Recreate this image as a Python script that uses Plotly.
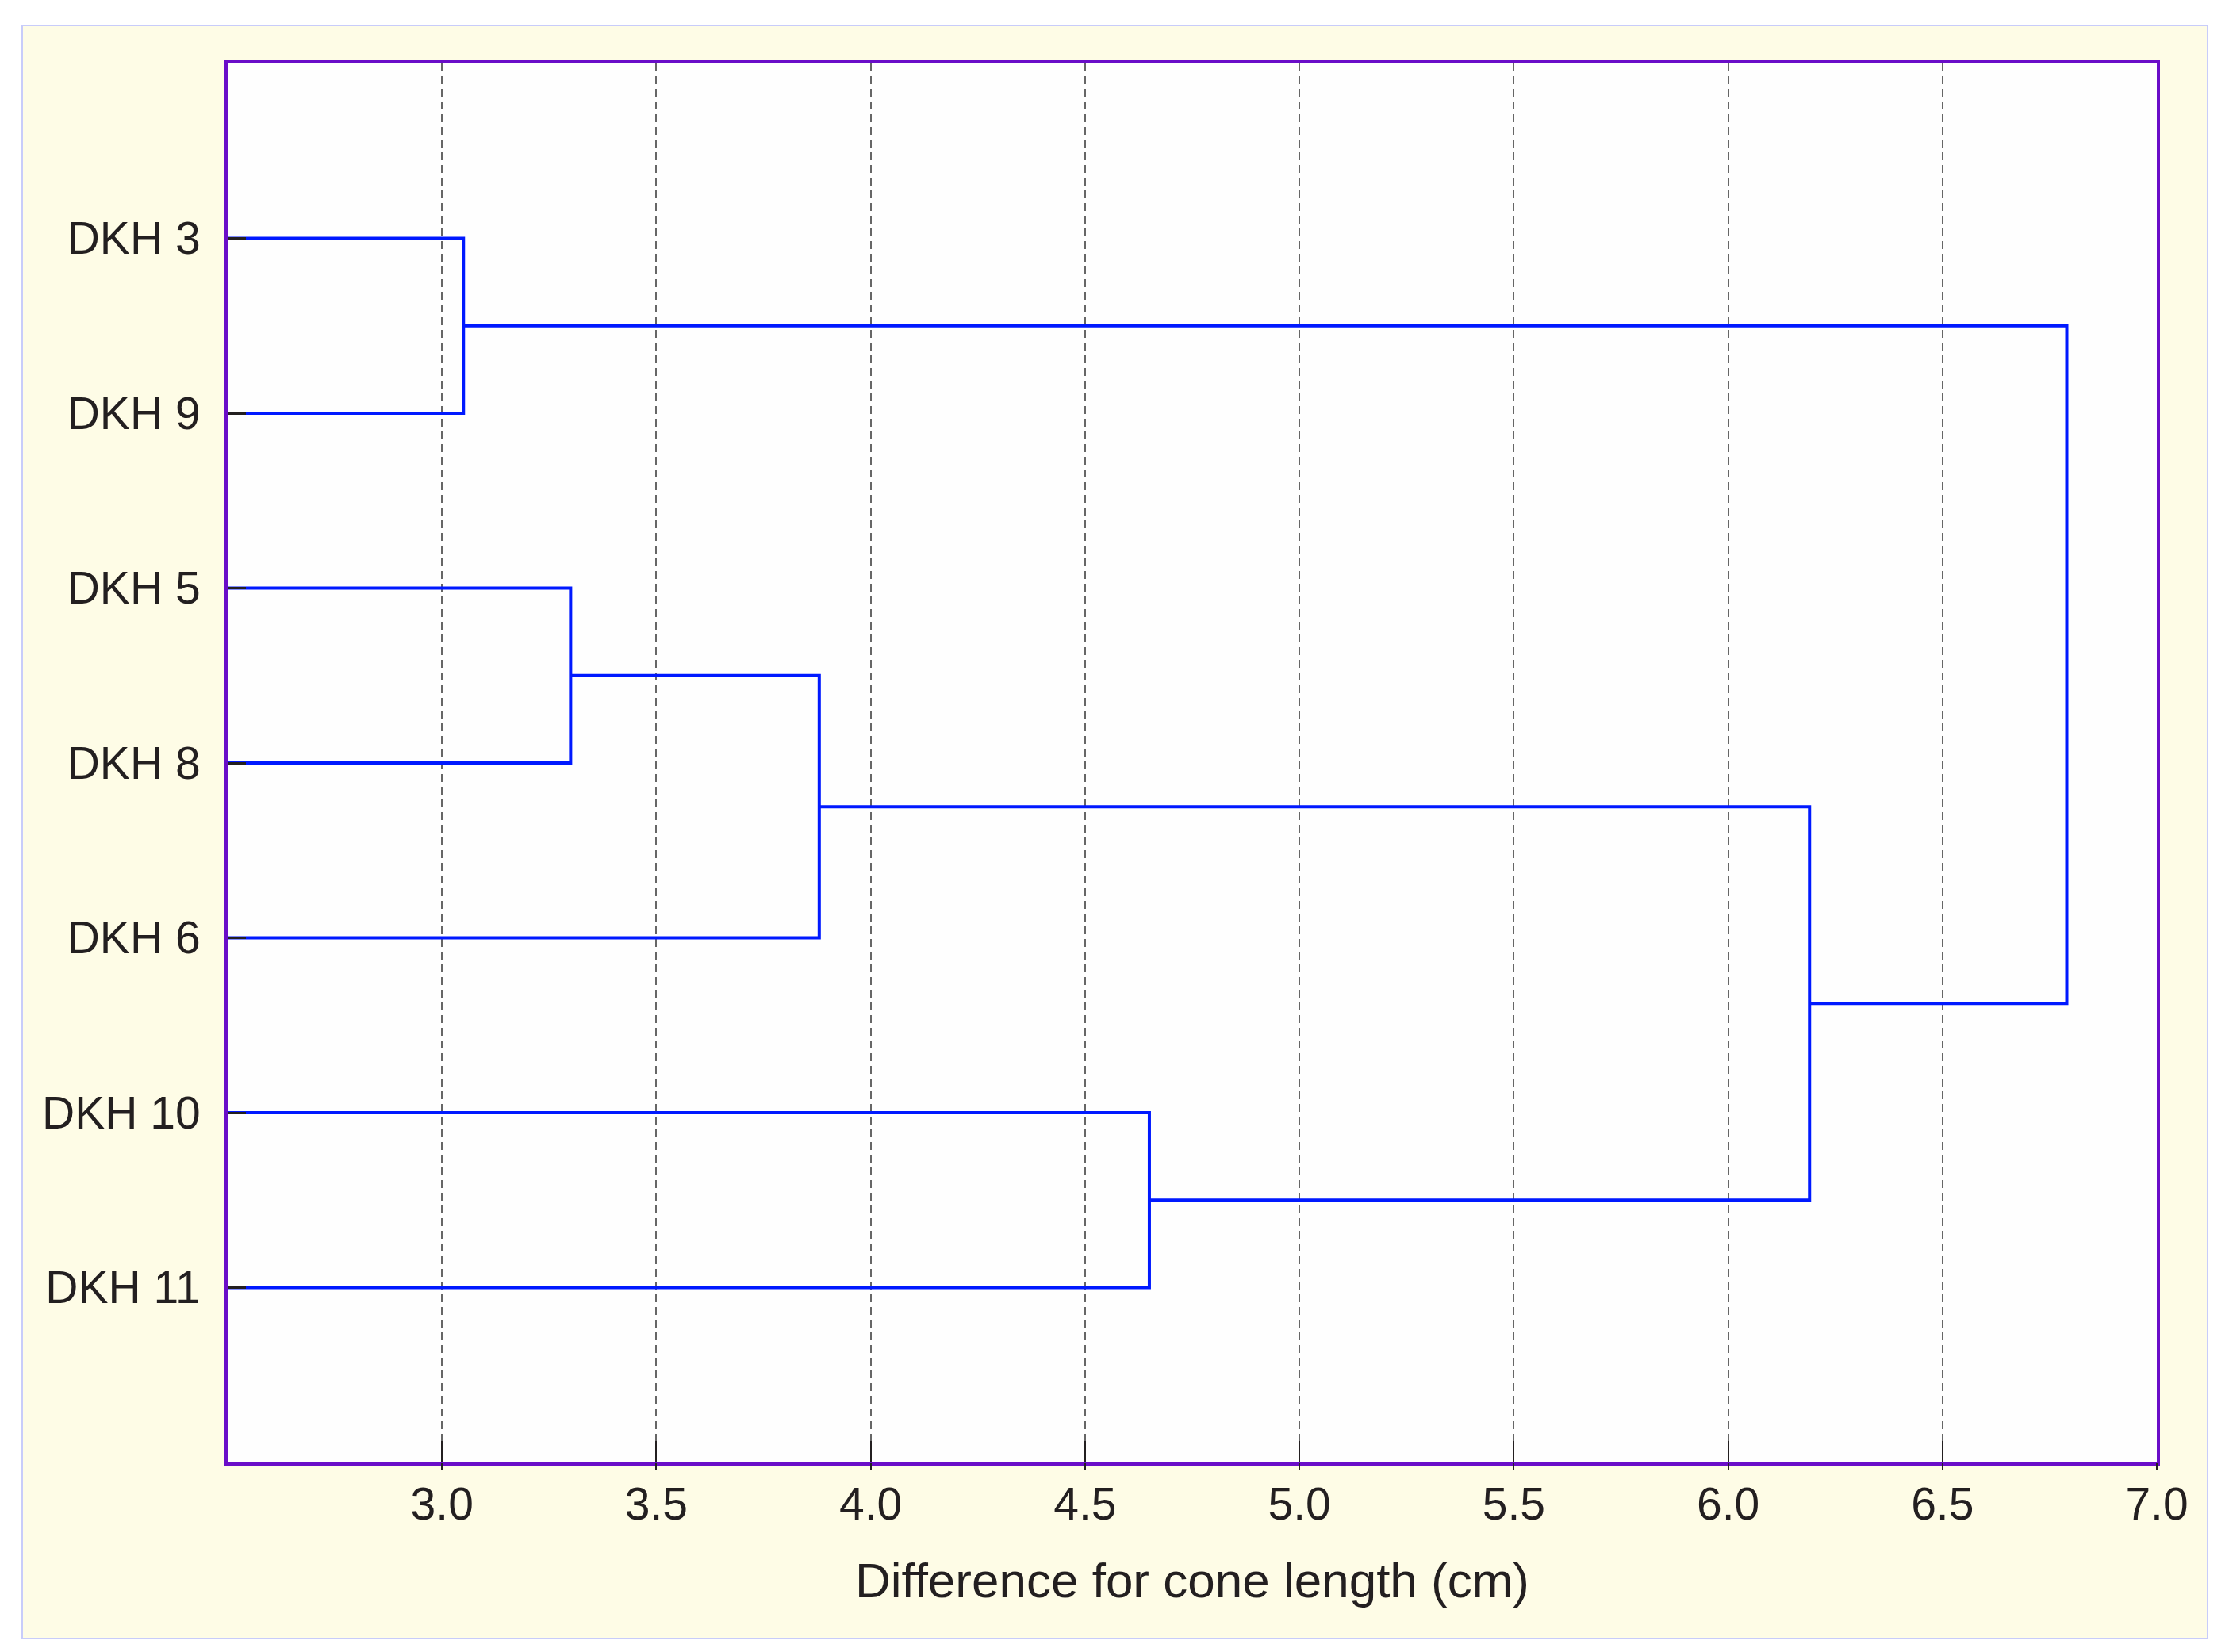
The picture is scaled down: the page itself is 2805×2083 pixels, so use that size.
import plotly.graph_objects as go

# ---- data ----
leaf_labels = ["DKH 3", "DKH 9", "DKH 5", "DKH 8", "DKH 6", "DKH 10", "DKH 11"]
# linkage: cluster ids 0..6 are leaves, new clusters get ids 7, 8, ...
link_a = [0, 2, 8, 5, 9, 7]
link_b = [1, 3, 4, 6, 10, 11]
link_h = [3.05, 3.30, 3.88, 4.65, 6.19, 6.79]
x_ticks = [3.0, 3.5, 4.0, 4.5, 5.0, 5.5, 6.0, 6.5, 7.0]
x_range = [2.5, 7.0]
x_title = "Difference for cone length (cm)"

# ---- build dendrogram path ----
n = len(leaf_labels)
ypos = {i: i + 1 for i in range(n)}
xpos = {i: x_range[0] for i in range(n)}
xs, ys = [], []
for k, (a, b, h) in enumerate(zip(link_a, link_b, link_h)):
    cid = n + k
    xs += [xpos[a], h, h, xpos[b], None]
    ys += [ypos[a], ypos[a], ypos[b], ypos[b], None]
    ypos[cid] = (ypos[a] + ypos[b]) / 2
    xpos[cid] = h

OFF = 8  # default body margin of the page
W, H = 2805 - 2 * OFF, 2083 - 2 * OFF
# page coordinates of the plot area
L, R, T, B = 287, 2719, 80, 1844
FONT = "Liberation Sans, Arial, sans-serif"
TXT = "#231f20"

fig = go.Figure()
fig.add_trace(go.Scatter(x=xs, y=ys, mode="lines",
                         line=dict(color="#0019ff", width=4),
                         hoverinfo="skip", showlegend=False))
# invisible trace for the overlaid axis carrying the outer tick stubs
fig.add_trace(go.Scatter(x=x_range, y=[None, None], xaxis="x2", mode="lines",
                         showlegend=False, hoverinfo="skip"))

pw = R - L
ph = B - T
# outer cream panel
fig.add_shape(type="rect", xref="paper", yref="paper",
              x0=(28 - L) / pw, x1=(2783 - L) / pw,
              y0=(B - 2066) / ph, y1=(B - 32) / ph,
              fillcolor="#fefce6", line=dict(color="#c8ccfa", width=2),
              layer="below")
# plot area background
fig.add_shape(type="rect", xref="paper", yref="paper",
              x0=0, x1=1, y0=0, y1=1,
              fillcolor="#fefefe", line=dict(width=0), layer="below")

fig.update_layout(
    width=W, height=H,
    margin=dict(l=L - OFF, r=(W + OFF) - R, t=T - OFF, b=(H + OFF) - B, pad=0),
    paper_bgcolor="white",
    plot_bgcolor="rgba(0,0,0,0)",
    font=dict(family=FONT, color=TXT),
    xaxis=dict(
        range=x_range, tickvals=x_ticks,
        ticktext=[f"{v:.1f}" for v in x_ticks],
        showgrid=True, gridcolor="#666666", gridwidth=2, griddash="10px,6px",
        zeroline=False,
        showline=True, linecolor="#6a0dc8", linewidth=4, mirror=True,
        ticks="inside", ticklen=27, tickwidth=2, tickcolor=TXT,
        tickfont=dict(size=57, color=TXT),
        ticklabelstandoff=0,
        title=dict(text=x_title, font=dict(size=62, color=TXT), standoff=44),
    ),
    xaxis2=dict(
        range=x_range, tickvals=x_ticks, overlaying="x", side="bottom",
        showgrid=False, zeroline=False, showline=False, showticklabels=False,
        ticks="outside", ticklen=9, tickwidth=2, tickcolor=TXT,
    ),
    yaxis=dict(
        range=[n + 1, 0], tickvals=list(range(1, n + 1)), ticktext=leaf_labels,
        showgrid=False, zeroline=False,
        showline=True, linecolor="#6a0dc8", linewidth=4, mirror=True,
        ticks="inside", ticklen=23, tickwidth=3, tickcolor=TXT,
        tickfont=dict(size=57, color=TXT),
        ticklabelstandoff=19,
    ),
)

fig.write_html("out.html")
